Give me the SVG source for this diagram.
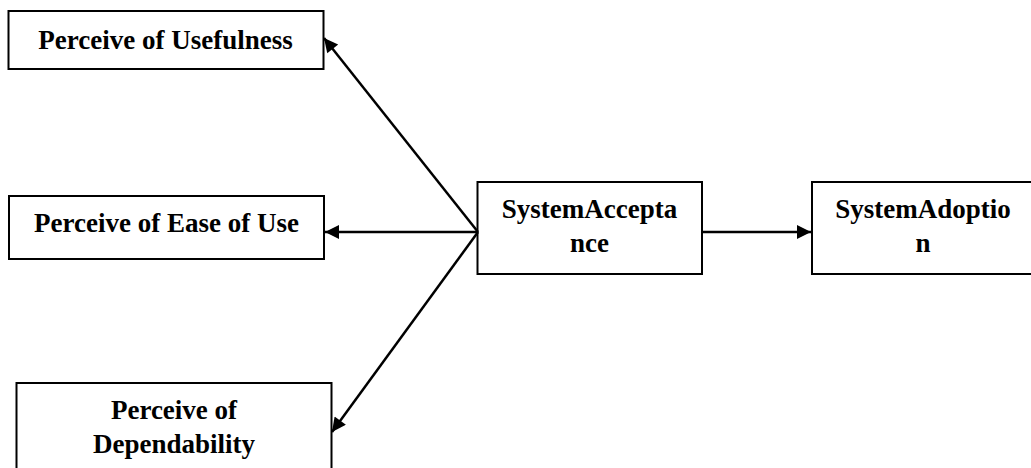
<svg xmlns="http://www.w3.org/2000/svg" width="1031" height="468" viewBox="0 0 1031 468">
<style>
.box{fill:#fff;stroke:#000;stroke-width:2}
.t{font-family:"Liberation Serif","Times New Roman",serif;font-weight:bold;font-size:27px;fill:#000;text-anchor:middle}
.c{stroke:#000;stroke-width:2.5;fill:none;marker-end:url(#ah)}
</style>
<defs>
<marker id="ah" viewBox="0 0 10 10" refX="10" refY="5" markerWidth="6.4" markerHeight="5.6" markerUnits="strokeWidth" orient="auto">
<path d="M0,0 L10,5 L0,10 z" fill="#000"/>
</marker>
</defs>
<rect width="1031" height="468" fill="#fff"/>
<g id="usefulness">
<rect class="box" x="8.5" y="11" width="315" height="58"/>
<text class="t" x="165.5" y="48.5">Perceive of Usefulness</text>
</g>
<g id="ease">
<rect class="box" x="9" y="196" width="315" height="63"/>
<text class="t" x="166.5" y="232">Perceive of Ease of Use</text>
</g>
<g id="dependability">
<rect class="box" x="16.5" y="383" width="315" height="100"/>
<text class="t" x="174" y="419">Perceive of</text>
<text class="t" x="174" y="452.5">Dependability</text>
</g>
<g id="acceptance">
<rect class="box" x="477.5" y="182" width="224.5" height="92"/>
<text class="t" x="589.5" y="218">SystemAccepta</text>
<text class="t" x="589.5" y="251.5">nce</text>
</g>
<g id="adoption">
<rect class="box" x="812" y="182" width="222" height="92"/>
<text class="t" x="923" y="218">SystemAdoptio</text>
<text class="t" x="923" y="251.5">n</text>
</g>
<g id="connectors">
<line class="c" x1="478" y1="232" x2="324" y2="38"/>
<line class="c" x1="478" y1="232" x2="325" y2="232"/>
<line class="c" x1="478" y1="232" x2="332" y2="432"/>
<line class="c" x1="702" y1="232" x2="811" y2="232"/>
</g>
</svg>
